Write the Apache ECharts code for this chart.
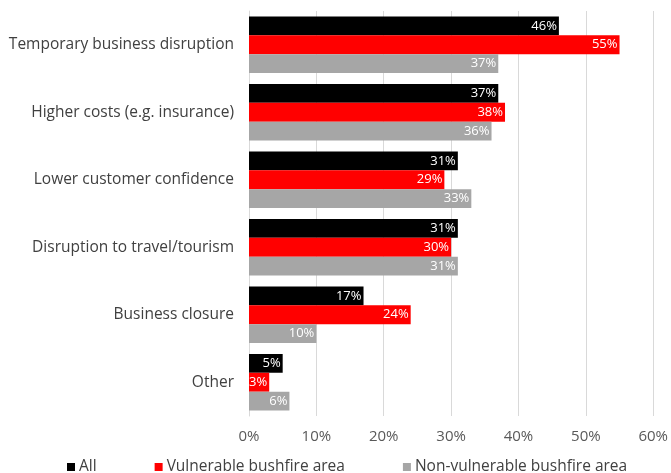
<!DOCTYPE html>
<html>
<head>
<meta charset="utf-8">
<script src="https://cdn.jsdelivr.net/npm/echarts@6/dist/echarts.min.js"></script>
<style>
  html, body { margin: 0; padding: 0; background: #fff; }
  #chart { width: 671px; height: 473px; }
</style>
</head>
<body>
<div id="chart"></div>
<script>
// Business impacts of bushfires, share of respondents (%)
const categories = [
  'Temporary business disruption',
  'Higher costs (e.g. insurance)',
  'Lower customer confidence',
  'Disruption to travel/tourism',
  'Business closure',
  'Other'
];
const seriesNames = ['All', 'Vulnerable bushfire area', 'Non-vulnerable bushfire area'];
const allValues = [46, 37, 31, 31, 17, 5];
const vulnerableValues = [55, 38, 29, 30, 24, 3];
const nonVulnerableValues = [37, 36, 33, 31, 10, 6];
const xTicks = [0, 10, 20, 30, 40, 50, 60];

const colors = ['#000000', '#ff0000', '#a6a6a6'];
const FONT = 'Open Sans';

function barSeries(name, data, color) {
  return {
    name: name,
    type: 'bar',
    data: data,
    barGap: '0%',
    barCategoryGap: '16%',
    itemStyle: { color: color },
    label: {
      show: true,
      position: 'insideRight',
      distance: 2,
      color: '#ffffff',
      fontFamily: FONT,
      fontSize: 13,
      formatter: p => p.value + '%'
    }
  };
}

const chart = echarts.init(document.getElementById('chart'));
chart.setOption({
  animation: false,
  textStyle: { fontFamily: FONT },
  grid: { left: 249, right: 16, top: 11, bottom: 57, containLabel: false },
  legend: {
    top: 454,
    left: 62,
    itemWidth: 8,
    itemHeight: 8,
    itemGap: 58,
    icon: 'rect',
    textStyle: { fontFamily: FONT, fontSize: 15.5, color: '#404040', padding: [0, 0, 0, -1] },
    data: seriesNames
  },
  xAxis: {
    type: 'value',
    min: xTicks[0],
    max: xTicks[xTicks.length - 1],
    interval: 10,
    axisLine: { show: false },
    axisTick: { show: false },
    axisLabel: {
      formatter: v => v + '%',
      color: '#595959',
      fontFamily: FONT,
      fontSize: 15,
      margin: 13
    },
    splitLine: { lineStyle: { color: '#d9d9d9', width: 1 } }
  },
  yAxis: {
    type: 'category',
    data: categories,
    inverse: true,
    axisLine: { show: true, lineStyle: { color: '#d9d9d9' } },
    axisTick: { show: false },
    axisLabel: {
      color: '#404040',
      fontFamily: FONT,
      fontSize: 15.5,
      margin: 15
    }
  },
  series: [
    barSeries(seriesNames[0], allValues, colors[0]),
    barSeries(seriesNames[1], vulnerableValues, colors[1]),
    barSeries(seriesNames[2], nonVulnerableValues, colors[2])
  ]
});
</script>
</body>
</html>
